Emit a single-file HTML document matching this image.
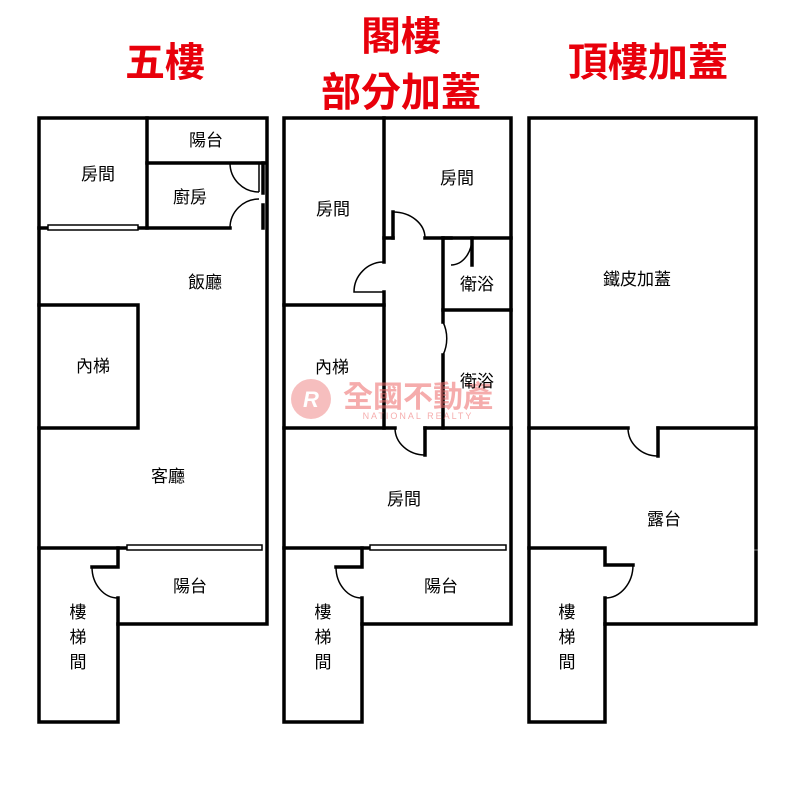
<!DOCTYPE html>
<html><head><meta charset="utf-8"><style>
html,body{margin:0;padding:0;background:#fff;}
svg{display:block}
text{font-family:"Liberation Sans","Noto Sans CJK TC",sans-serif}
.l{font-size:17px;fill:#000;text-anchor:middle}
.t{font-size:40px;fill:#e8000b;font-weight:bold;text-anchor:middle}
</style></head><body>
<svg width="795" height="800" viewBox="0 0 795 800" xmlns="http://www.w3.org/2000/svg">
<rect width="795" height="800" fill="#fff"/>
<text class="t" x="165" y="76">五樓</text>
<text class="t" x="401" y="50">閣樓</text>
<text class="t" x="401" y="106">部分加蓋</text>
<text class="t" x="648" y="76">頂樓加蓋</text>

<g stroke="#000" stroke-width="3.5" fill="none" stroke-linecap="square">
<!-- Panel 1 -->
<path d="M39,118 H267 V624 H118 V722 H39 Z"/>
<path d="M147,118 V228"/>
<path d="M147,163 H265"/>
<path d="M39,228 H48 M138,228 H230"/>
<path d="M263,163 V193 M263,205 V228"/>
<path d="M39,305 H138 V428 H39"/>
<path d="M39,548 H127"/>
<path d="M118,548 V567 H92 M118,598 V624"/>
</g>
<g stroke="#000" stroke-width="1.5" fill="none">
<path d="M230,163 A29,29 0 0 0 259,192"/>
<path d="M230,228 A29,29 0 0 1 259,199"/>
<path d="M259,163 H268 M259,192 V163"/>
<rect x="48" y="225" width="90" height="5" fill="#fff"/>
<rect x="127" y="545" width="135" height="5" fill="#fff"/>
<path d="M92,567 A26,31 0 0 0 118,598"/>
</g>

<g stroke="#000" stroke-width="3.5" fill="none" stroke-linecap="square">
<!-- Panel 2 -->
<path d="M284,118 H511 V624 H362 V722 H284 Z"/>
<path d="M384,118 V262 M384,292 V428"/>
<path d="M384,238 H393 M425,238 H511"/>
<path d="M393,238 V212"/>
<path d="M443,238 V322 M443,355 V428"/>
<path d="M472,238 V265 M443,238 H451"/>
<path d="M443,310 H511"/>
<path d="M284,305 H384"/>
<path d="M284,428 H395 M425,428 H511"/>
<path d="M425,428 V455"/>
<path d="M284,548 H370"/>
<path d="M362,548 V567 H336 M362,598 V624"/>
</g>
<g stroke="#000" stroke-width="1.5" fill="none">
<path d="M393,212 A32,26 0 0 1 425,238"/>
<path d="M384,262 A30,30 0 0 0 354,292 H384"/>
<path d="M451,265 A21,27 0 0 0 472,238"/>
<path d="M443,322 A28,33 0 0 1 443,355 "/>
<path d="M395,428 A30,27 0 0 0 425,455"/>
<rect x="370" y="545" width="136" height="5" fill="#fff"/>
<path d="M336,567 A26,31 0 0 0 362,598"/>
</g>

<g stroke="#000" stroke-width="3.5" fill="none" stroke-linecap="square">
<!-- Panel 3 -->
<path d="M756,548 V118 H529 V722 H605 V624 H756 V552"/>
<path d="M529,428 H628 M658,428 H756"/>
<path d="M658,428 V456"/>
<path d="M529,548 H605 V565 H633 M605,598 V624"/>
</g>
<g stroke="#000" stroke-width="1.5" fill="none">
<path d="M628,428 A30,28 0 0 0 658,456"/>
<path d="M633,565 A28,33 0 0 1 605,598"/>
</g>

<!-- watermark -->
<g opacity="0.55">
<circle cx="311" cy="399" r="20" fill="#f08a8a"/>
<text x="311" y="407" font-size="22" font-weight="bold" fill="#fff" text-anchor="middle" font-style="italic">R</text>
<text x="418" y="407" font-size="30" font-weight="bold" fill="#ee6a6a" text-anchor="middle">全國不動產</text>
<text x="418" y="419" font-size="9" fill="#ee6a6a" text-anchor="middle" letter-spacing="2">NATIONAL REALTY</text>
</g>

<text class="l" x="98" y="180">房間</text>
<text class="l" x="206" y="146">陽台</text>
<text class="l" x="190" y="203">廚房</text>
<text class="l" x="205" y="288">飯廳</text>
<text class="l" x="93" y="372">內梯</text>
<text class="l" x="168" y="482">客廳</text>
<text class="l" x="190" y="592">陽台</text>
<text class="l" x="78" y="618">樓</text>
<text class="l" x="78" y="643">梯</text>
<text class="l" x="78" y="668">間</text>

<text class="l" x="333" y="215">房間</text>
<text class="l" x="457" y="184">房間</text>
<text class="l" x="477" y="290">衛浴</text>
<text class="l" x="332" y="373">內梯</text>
<text class="l" x="477" y="387">衛浴</text>
<text class="l" x="404" y="505">房間</text>
<text class="l" x="441" y="592">陽台</text>
<text class="l" x="323" y="618">樓</text>
<text class="l" x="323" y="643">梯</text>
<text class="l" x="323" y="668">間</text>

<text class="l" x="637" y="285">鐵皮加蓋</text>
<text class="l" x="664" y="525">露台</text>
<text class="l" x="567" y="618">樓</text>
<text class="l" x="567" y="643">梯</text>
<text class="l" x="567" y="668">間</text>
</svg>
</body></html>
